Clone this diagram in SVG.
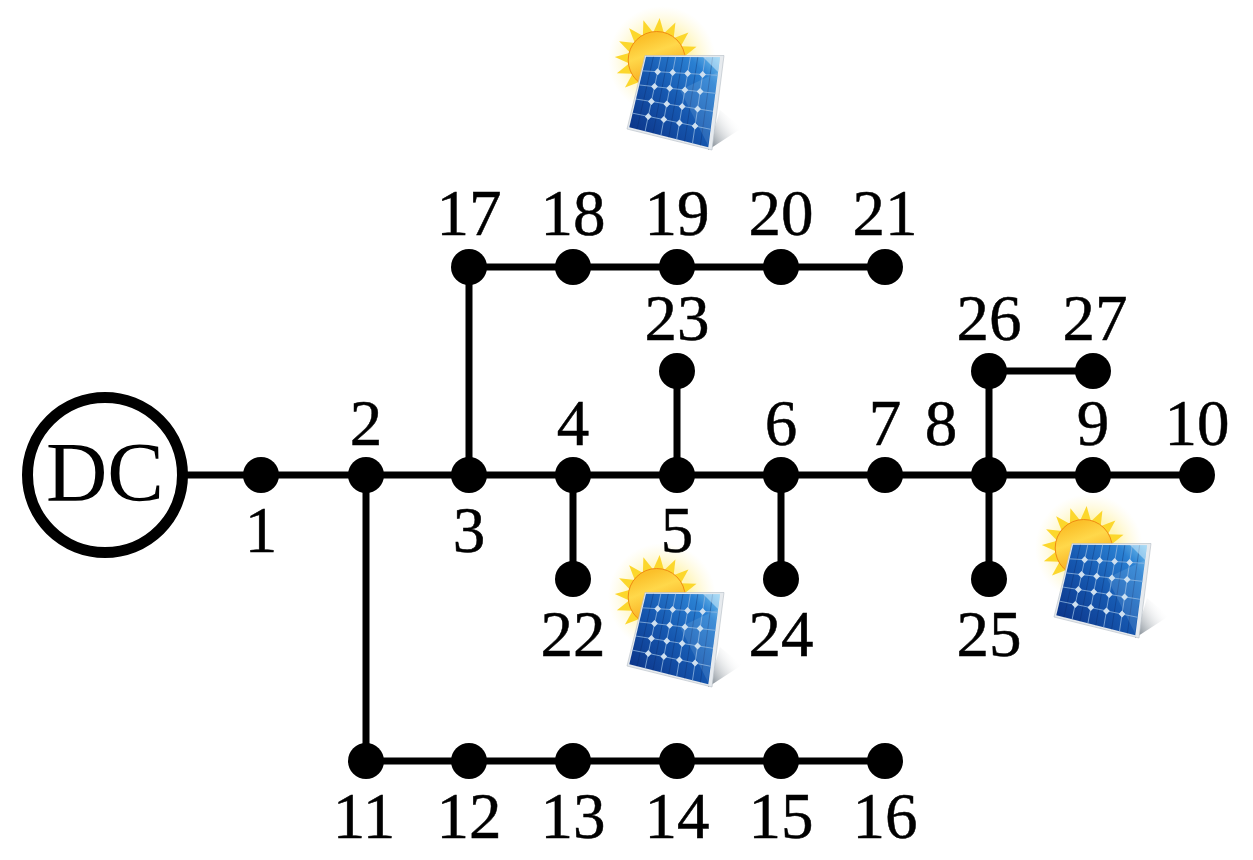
<svg xmlns="http://www.w3.org/2000/svg" xmlns:xlink="http://www.w3.org/1999/xlink" width="1253" height="860" viewBox="0 0 1253 860">
<style>
text{font-family:"Liberation Serif","Times New Roman",serif;fill:#000}
.l{font-size:65px;text-anchor:middle;stroke:#000;stroke-width:0.5px}
.c line,.c path{stroke:#000;stroke-width:7;fill:none}
.n circle{fill:#000}
</style>
<defs>
<linearGradient id="sunG" x1="0.3" y1="0.1" x2="0.6" y2="0.9"><stop offset="0" stop-color="#fbc02a"/><stop offset="0.35" stop-color="#ffd84a"/><stop offset="1" stop-color="#f7a416"/></linearGradient>
<linearGradient id="panG" gradientUnits="userSpaceOnUse" x1="35" y1="128" x2="122" y2="48"><stop offset="0" stop-color="#0c3488"/><stop offset="0.45" stop-color="#1658b0"/><stop offset="0.8" stop-color="#2a80d2"/><stop offset="1" stop-color="#7cc8f0"/></linearGradient>
<linearGradient id="shG" gradientUnits="userSpaceOnUse" x1="110" y1="140" x2="142" y2="118"><stop offset="0" stop-color="#6f7a84"/><stop offset="1" stop-color="#fff" stop-opacity="0"/></linearGradient>
<radialGradient id="glow"><stop offset="0.55" stop-color="#fff3a8" stop-opacity="0.85"/><stop offset="1" stop-color="#fff8d0" stop-opacity="0"/></radialGradient>
<polygon id="ray" points="-5.5,-27 0,-42 5.5,-27" fill="#fcd72c"/>
<g id="solar">
<circle cx="62" cy="50" r="54" fill="url(#glow)"/>
<polygon points="108,140 120,100 142,118" fill="url(#shG)"/>
<g transform="translate(56.7,50)">
<use xlink:href="#ray" transform="rotate(4)"/><use xlink:href="#ray" transform="rotate(26.5)"/><use xlink:href="#ray" transform="rotate(49)"/><use xlink:href="#ray" transform="rotate(71.5)"/><use xlink:href="#ray" transform="rotate(94)"/><use xlink:href="#ray" transform="rotate(116.5)"/><use xlink:href="#ray" transform="rotate(139)"/><use xlink:href="#ray" transform="rotate(161.5)"/><use xlink:href="#ray" transform="rotate(184)"/><use xlink:href="#ray" transform="rotate(206.5)"/><use xlink:href="#ray" transform="rotate(229)"/><use xlink:href="#ray" transform="rotate(251.5)"/><use xlink:href="#ray" transform="rotate(274)"/><use xlink:href="#ray" transform="rotate(296.5)"/><use xlink:href="#ray" transform="rotate(319)"/><use xlink:href="#ray" transform="rotate(341.5)"/>
<circle r="28.5" fill="url(#sunG)" stroke="#f08a12" stroke-width="1"/>
</g>
<polygon points="45,45.5 124,45.5 112,140 27,119" fill="#e6eaee" stroke="#b4bcc4" stroke-width="0.6"/>
<polygon points="46,46.7 120,47.3 108.3,137.3 29.3,117.3" fill="url(#panG)"/>
<g fill="none" stroke="#0a2a68" stroke-width="0.6" opacity="0.6">
<path d="M53.4,46.8 37,119.3M68.2,46.9 53,123.3M83,47 68.8,127.3M97.8,47.2 84.6,131.3M112.6,47.3 100.4,135.3"/>
</g>
<path d="M60.8,46.8 45.1,121.3M75.6,46.9 60.9,125.3M90.4,47.1 76.7,129.3M105.2,47.2 92.5,133.3M42.66,60.82 117.66,65.3M39.32,74.94 115.32,83.3M35.98,89.06 112.98,101.3M32.64,103.18 110.64,119.3" fill="none" stroke="#8db4de" stroke-width="0.8"/>
<g fill="#cfe0f0">
<path d="M57.66,58.2 61,61.7 57.66,65.2 54.3,61.7ZM72.66,59.1 76,62.6 72.66,66.1 69.3,62.6ZM87.66,60 91,63.5 87.66,67 84.3,63.5ZM102.66,60.9 106,64.4 102.66,67.9 99.3,64.4ZM54.52,73.1 57.9,76.6 54.52,80.1 51.1,76.6ZM69.72,74.8 73.1,78.3 69.72,81.8 66.3,78.3ZM84.92,76.5 88.3,80 84.92,83.5 81.5,80ZM100.12,78.1 103.5,81.6 100.12,85.1 96.7,81.6ZM51.38,88 54.8,91.5 51.38,95 48,91.5ZM66.78,90.4 70.2,93.9 66.78,97.4 63.4,93.9ZM82.18,92.9 85.6,96.4 82.18,99.9 78.8,96.4ZM97.58,95.4 101,98.9 97.58,102.4 94.2,98.9ZM48.24,102.9 51.6,106.4 48.24,109.9 44.9,106.4ZM63.84,106.1 67.2,109.6 63.84,113.1 60.5,109.6ZM79.44,109.4 82.8,112.9 79.44,116.4 76,112.9ZM95.04,112.6 98.4,116.1 95.04,119.6 91.7,116.1Z"/>
</g>
<polygon points="80,80 118,62 108,135" fill="#bfe6fa" opacity="0.14"/>
<polygon points="103,47 120,47.3 118,62" fill="#e8f8ff" opacity="0.45"/>
</g>
</defs>
<rect width="1253" height="860" fill="#fff"/>
<use id="solar-top" xlink:href="#solar" x="600" y="10"/>
<use id="solar-mid" xlink:href="#solar" x="600" y="547"/>
<use id="solar-right" xlink:href="#solar" x="1027" y="498"/>
<g id="connectors" class="c">
<line x1="185" y1="475" x2="1197" y2="475"/>
<line x1="366" y1="475" x2="366" y2="761"/>
<line x1="366" y1="761" x2="885" y2="761"/>
<line x1="469" y1="475" x2="469" y2="267"/>
<line x1="469" y1="267" x2="885" y2="267"/>
<line x1="573" y1="475" x2="573" y2="579"/>
<line x1="677" y1="475" x2="677" y2="371"/>
<line x1="781" y1="475" x2="781" y2="579"/>
<line x1="989" y1="475" x2="989" y2="579"/>
<path d="M989,475V371H1093"/>
</g>
<g id="dc"><circle cx="105" cy="475" r="77.5" fill="#fff" stroke="#000" stroke-width="11"/><text x="105" y="501" font-size="85" text-anchor="middle">DC</text></g>
<g class="n">
<g id="n1"><circle cx="261" cy="475" r="18"/><text class="l" x="261" y="552">1</text></g>
<g id="n2"><circle cx="366" cy="475" r="18"/><text class="l" x="366" y="445">2</text></g>
<g id="n3"><circle cx="469" cy="475" r="18"/><text class="l" x="469" y="552">3</text></g>
<g id="n4"><circle cx="573" cy="475" r="18"/><text class="l" x="573" y="445">4</text></g>
<g id="n5"><circle cx="677" cy="475" r="18"/><text class="l" x="677" y="552">5</text></g>
<g id="n6"><circle cx="781" cy="475" r="18"/><text class="l" x="781" y="445">6</text></g>
<g id="n7"><circle cx="885" cy="475" r="18"/><text class="l" x="885" y="445">7</text></g>
<g id="n8"><circle cx="989" cy="475" r="18"/><text class="l" x="941" y="445">8</text></g>
<g id="n9"><circle cx="1093" cy="475" r="18"/><text class="l" x="1093" y="445">9</text></g>
<g id="n10"><circle cx="1197" cy="475" r="18"/><text class="l" x="1197" y="445">10</text></g>
<g id="n11"><circle cx="366" cy="761" r="18"/><text class="l" x="364" y="838">11</text></g>
<g id="n12"><circle cx="469" cy="761" r="18"/><text class="l" x="469" y="838">12</text></g>
<g id="n13"><circle cx="573" cy="761" r="18"/><text class="l" x="573" y="838">13</text></g>
<g id="n14"><circle cx="677" cy="761" r="18"/><text class="l" x="677" y="838">14</text></g>
<g id="n15"><circle cx="781" cy="761" r="18"/><text class="l" x="781" y="838">15</text></g>
<g id="n16"><circle cx="885" cy="761" r="18"/><text class="l" x="885" y="838">16</text></g>
<g id="n17"><circle cx="469" cy="267" r="18"/><text class="l" x="469" y="235">17</text></g>
<g id="n18"><circle cx="573" cy="267" r="18"/><text class="l" x="573" y="235">18</text></g>
<g id="n19"><circle cx="677" cy="267" r="18"/><text class="l" x="677" y="235">19</text></g>
<g id="n20"><circle cx="781" cy="267" r="18"/><text class="l" x="781" y="235">20</text></g>
<g id="n21"><circle cx="885" cy="267" r="18"/><text class="l" x="885" y="235">21</text></g>
<g id="n22"><circle cx="573" cy="579" r="18"/><text class="l" x="573" y="656">22</text></g>
<g id="n23"><circle cx="677" cy="371" r="18"/><text class="l" x="677" y="340">23</text></g>
<g id="n24"><circle cx="781" cy="579" r="18"/><text class="l" x="781" y="656">24</text></g>
<g id="n25"><circle cx="989" cy="579" r="18"/><text class="l" x="989" y="656">25</text></g>
<g id="n26"><circle cx="989" cy="371" r="18"/><text class="l" x="989" y="340">26</text></g>
<g id="n27"><circle cx="1093" cy="371" r="18"/><text class="l" x="1095" y="340">27</text></g>
</g>
</svg>
